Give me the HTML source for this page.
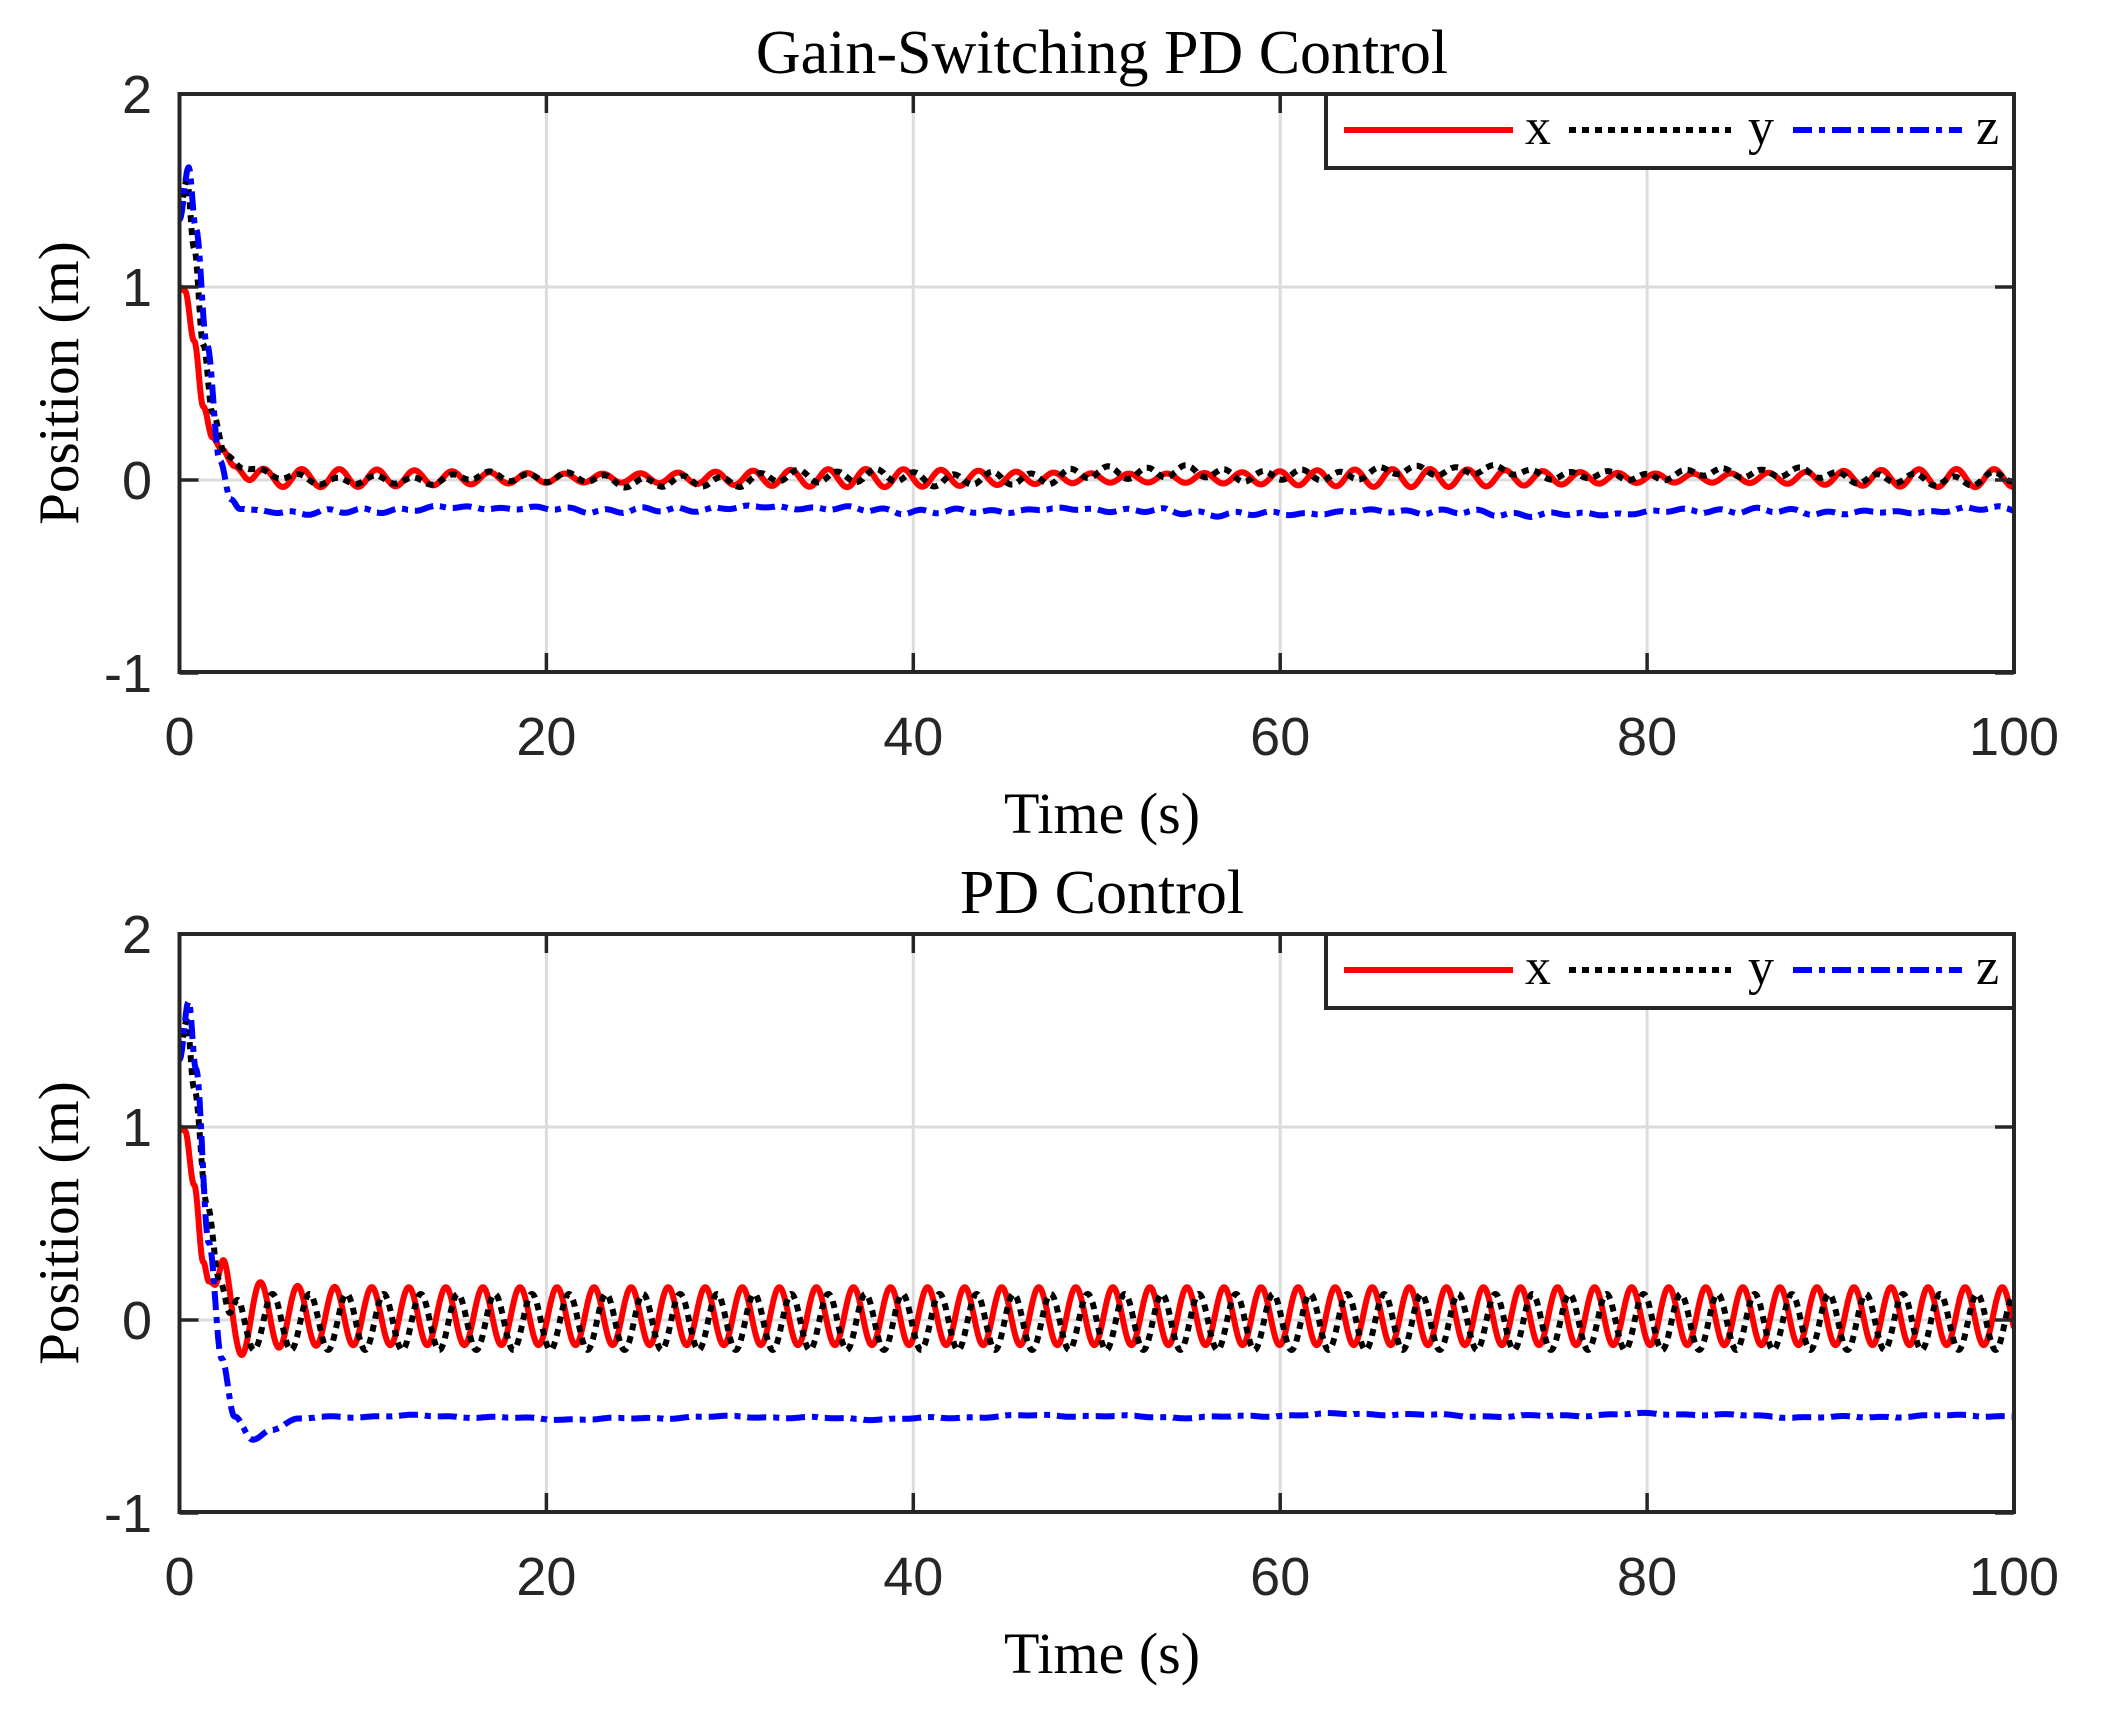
<!DOCTYPE html>
<html><head><meta charset="utf-8">
<style>
html,body{margin:0;padding:0;background:#fff;}
svg{display:block;}
.tk{font-family:"Liberation Sans",Arial,sans-serif;font-size:54px;fill:#262626;}
.tt{font-family:"Liberation Serif","Times New Roman",serif;fill:#000;}
</style></head><body>
<svg id="s" width="2107" height="1709" viewBox="0 0 2107 1709" xmlns="http://www.w3.org/2000/svg">
<defs>
<clipPath id="c1"><rect x="180" y="94" width="1834" height="578"/></clipPath>
<clipPath id="c2"><rect x="180" y="934" width="1834" height="578"/></clipPath>
</defs>
<g id="g1"></g>
<g id="g2"></g>
<text class="tt" x="1102" y="73" font-size="62" text-anchor="middle">Gain-Switching PD Control</text>
<text class="tt" x="1102" y="833" font-size="58" text-anchor="middle">Time (s)</text>
<text class="tt" x="1102" y="913" font-size="62" text-anchor="middle">PD Control</text>
<text class="tt" x="1102" y="1673" font-size="58" text-anchor="middle">Time (s)</text>
<text class="tt" font-size="57" text-anchor="middle" transform="translate(78,383) rotate(-90)">Position (m)</text>
<text class="tt" font-size="57" text-anchor="middle" transform="translate(78,1223) rotate(-90)">Position (m)</text>
</svg>
<script>
(function(){
var NS="http://www.w3.org/2000/svg";
var L=179.5,R=2014,S=18.345;
function X(t){return L+t*S;}
function el(g,n,a,txt){var e=document.createElementNS(NS,n);for(var k in a)e.setAttribute(k,a[k]);if(txt!==undefined)e.textContent=txt;g.appendChild(e);return e;}
function kf(pts,t){if(t<=pts[0][0])return pts[0][1];for(var i=1;i<pts.length;i++){if(t<=pts[i][0]){var a=pts[i-1],b=pts[i];var u=(t-a[0])/(b[0]-a[0]);u=(1-Math.cos(Math.PI*u))/2;return a[1]+(b[1]-a[1])*u;}}return pts[pts.length-1][1];}
function ss(a,b,t){if(t<=a)return 0;if(t>=b)return 1;var u=(t-a)/(b-a);return u*u*(3-2*u);}
function nz(t,s){return Math.sin(t*0.37+s)*0.5+Math.sin(t*1.13+2*s)*0.3+Math.sin(t*0.071+3*s)*0.6+Math.sin(t*2.9+s*5)*0.2;}
var P=2*Math.PI;
var DOT="7 6", DD="19 7 6 7";
var series=[
 {p:0,col:"#ff0000",da:"",f:function(t){return kf([[0,1],[0.3,0.98],[0.8,0.72],[1.3,0.38],[1.8,0.22],[2.3,0.16],[3,0.07],[4,0.02],[5,0.01]],t)+ss(2.5,4.5,t)*(0.035+0.012*Math.sin(t*0.21))*Math.sin(P*t/2.05);}},
 {p:0,col:"#000000",da:DOT,f:function(t){return kf([[0,1.4],[0.4,1.55],[0.8,1.2],[1.3,0.7],[1.8,0.35],[2.5,0.13],[3.5,0.06],[5,0.02]],t)+ss(3,5,t)*(0.025*Math.sin(P*t/2.1+1)+0.03*nz(t,1));}},
 {p:0,col:"#0000ff",da:DD,f:function(t){return kf([[0,1.35],[0.5,1.62],[0.9,1.3],[1.5,0.7],[2.2,0.1],[2.8,-0.1],[3.3,-0.15],[5,-0.16]],t)+ss(4,6,t)*(0.018*nz(t,2)+0.008*Math.sin(P*t/1.9));}},
 {p:1,col:"#ff0000",da:"",f:function(t){var base=kf([[0,1],[0.3,0.98],[0.8,0.7],[1.3,0.3],[1.6,0.2],[2.0,0.18],[2.4,0.06],[3,0.02]],t);return base+ss(1.9,2.4,t)*(0.15+0.1*Math.exp(-(t-2.4)/1.5))*Math.cos(P*(t-2.4)/2.02);}},
 {p:1,col:"#000000",da:DOT,f:function(t){return kf([[0,1.4],[0.4,1.55],[0.8,1.2],[1.5,0.6],[2.2,0.2],[2.8,0.02],[3.5,-0.01]],t)+ss(2.5,3.5,t)*0.145*Math.cos(P*(t-3.05)/2.02);}},
 {p:1,col:"#0000ff",da:DD,f:function(t){return kf([[0,1.35],[0.5,1.65],[0.9,1.3],[1.6,0.4],[2.3,-0.2],[3,-0.5],[4,-0.62],[5,-0.57],[6.5,-0.51],[8,-0.5]],t)+ss(6,8,t)*0.013*nz(t,3);}}
];
var grps=[document.getElementById("g1"),document.getElementById("g2")];
var tops=[94,934],zeros=[480,1320];
for(var p=0;p<2;p++){
 var g=grps[p],T=tops[p],B=T+578,Z=zeros[p];
 for(var i=1;i<5;i++){el(g,"line",{x1:X(i*20),x2:X(i*20),y1:T,y2:B,stroke:"#dcdcdc","stroke-width":3});}
 for(var v=-1;v<=2;v++){var y=Z-193*v;if(v>-1&&v<2)el(g,"line",{x1:L,x2:R,y1:y,y2:y,stroke:"#dcdcdc","stroke-width":3});}
 var dg=el(g,"g",{"clip-path":"url(#c"+(p+1)+")"});
 for(var k=0;k<series.length;k++){var s=series[k];if(s.p!==p)continue;
  var d="";for(var t=0;t<=100.0001;t+=0.02){var yy=Z-193*s.f(t);d+=(d?"L":"M")+X(t).toFixed(1)+" "+yy.toFixed(1);}
  var a={d:d,fill:"none",stroke:s.col,"stroke-width":6,"stroke-linejoin":"round"};if(s.da)a["stroke-dasharray"]=s.da;
  el(dg,"path",a);
 }
 el(g,"rect",{x:L,y:T,width:R-L,height:578,fill:"none",stroke:"#262626","stroke-width":4});
 for(var i=0;i<=5;i++){var x=X(i*20);el(g,"line",{x1:x,x2:x,y1:B,y2:B-19,stroke:"#262626","stroke-width":3.5});el(g,"line",{x1:x,x2:x,y1:T,y2:T+19,stroke:"#262626","stroke-width":3.5});
  el(g,"text",{"class":"tk",x:x,y:B+83,"text-anchor":"middle"},String(i*20));}
 for(var v=-1;v<=2;v++){var y=Z-193*v;el(g,"line",{x1:L,x2:L+19,y1:y,y2:y,stroke:"#262626","stroke-width":3.5});el(g,"line",{x1:R,x2:R-19,y1:y,y2:y,stroke:"#262626","stroke-width":3.5});
  el(g,"text",{"class":"tk",x:152,y:y+19,"text-anchor":"end"},String(v));}
 el(g,"rect",{x:1326,y:T,width:R-1326,height:74,fill:"#fff",stroke:"#262626","stroke-width":4});
 var ly=T+36;
 el(g,"line",{x1:1344,x2:1513,y1:ly,y2:ly,stroke:"#ff0000","stroke-width":6});
 el(g,"line",{x1:1569,x2:1731,y1:ly,y2:ly,stroke:"#000","stroke-width":6,"stroke-dasharray":DOT});
 el(g,"line",{x1:1793,x2:1962,y1:ly,y2:ly,stroke:"#0000ff","stroke-width":6,"stroke-dasharray":DD});
 el(g,"text",{"class":"tt",x:1525,y:ly+14,"font-size":"52"},"x");
 el(g,"text",{"class":"tt",x:1748,y:ly+14,"font-size":"52"},"y");
 el(g,"text",{"class":"tt",x:1976,y:ly+14,"font-size":"52"},"z");
}
})();
</script>
</body></html>
